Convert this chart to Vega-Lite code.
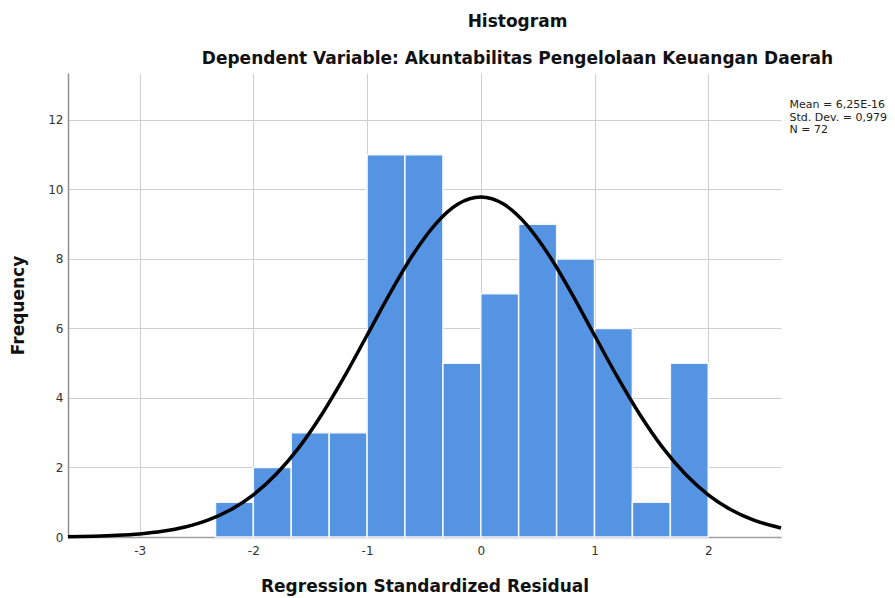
{
  "$schema": "https://vega.github.io/schema/vega-lite/v6.json",
  "width": 713,
  "height": 464,
  "autosize": {"type": "none"},
  "padding": {"left": 68, "top": 73, "right": 114, "bottom": 61},
  "background": "white",
  "config": {
    "view": {"stroke": null},
    "font": "DejaVu Sans"
  },
  "title": {
    "text": "Histogram",
    "subtitle": "Dependent Variable: Akuntabilitas Pengelolaan Keuangan Daerah",
    "anchor": "middle",
    "dx": 93,
    "offset": 5,
    "fontSize": 17,
    "fontWeight": "bold",
    "color": "#111111",
    "subtitleFontSize": 17,
    "subtitleFontWeight": "bold",
    "subtitleColor": "#111111",
    "subtitlePadding": 20,
    "font": "DejaVu Sans",
    "subtitleFont": "DejaVu Sans"
  },
  "datasets": {
    "bars": [
      {"bin_start": -2.333, "bin_end": -2.0, "count": 1},
      {"bin_start": -2.0, "bin_end": -1.667, "count": 2},
      {"bin_start": -1.667, "bin_end": -1.333, "count": 3},
      {"bin_start": -1.333, "bin_end": -1.0, "count": 3},
      {"bin_start": -1.0, "bin_end": -0.667, "count": 11},
      {"bin_start": -0.667, "bin_end": -0.333, "count": 11},
      {"bin_start": -0.333, "bin_end": 0.0, "count": 5},
      {"bin_start": 0.0, "bin_end": 0.333, "count": 7},
      {"bin_start": 0.333, "bin_end": 0.667, "count": 9},
      {"bin_start": 0.667, "bin_end": 1.0, "count": 8},
      {"bin_start": 1.0, "bin_end": 1.333, "count": 6},
      {"bin_start": 1.333, "bin_end": 1.667, "count": 1},
      {"bin_start": 1.667, "bin_end": 2.0, "count": 5}
    ],
    "curve": [
      {"x": -3.63, "y": 0.010},
      {"x": -3.4, "y": 0.024},
      {"x": -3.2, "y": 0.047},
      {"x": -3.0, "y": 0.089},
      {"x": -2.8, "y": 0.164},
      {"x": -2.6, "y": 0.288},
      {"x": -2.4, "y": 0.485},
      {"x": -2.2, "y": 0.783},
      {"x": -2.0, "y": 1.214},
      {"x": -1.8, "y": 1.805},
      {"x": -1.6, "y": 2.572},
      {"x": -1.4, "y": 3.518},
      {"x": -1.2, "y": 4.614},
      {"x": -1.0, "y": 5.804},
      {"x": -0.8, "y": 7.003},
      {"x": -0.6, "y": 8.106},
      {"x": -0.4, "y": 8.997},
      {"x": -0.2, "y": 9.578},
      {"x": 0.0, "y": 9.78},
      {"x": 0.2, "y": 9.578},
      {"x": 0.4, "y": 8.997},
      {"x": 0.6, "y": 8.106},
      {"x": 0.8, "y": 7.003},
      {"x": 1.0, "y": 5.804},
      {"x": 1.2, "y": 4.614},
      {"x": 1.4, "y": 3.518},
      {"x": 1.6, "y": 2.572},
      {"x": 1.8, "y": 1.805},
      {"x": 2.0, "y": 1.214},
      {"x": 2.2, "y": 0.783},
      {"x": 2.4, "y": 0.485},
      {"x": 2.64, "y": 0.259}
    ]
  },
  "layer": [
    {
      "data": {"name": "bars"},
      "mark": {"type": "bar", "color": "#5593e3", "stroke": "#f4f8fd", "strokeWidth": 1.5},
      "encoding": {
        "x": {
          "field": "bin_start",
          "type": "quantitative",
          "scale": {"domain": [-3.63, 2.64], "nice": false, "zero": false},
          "axis": {
            "values": [-3, -2, -1, 0, 1, 2],
            "labelExpr": "'' + datum.value",
            "title": "Regression Standardized Residual",
            "titleFontSize": 17,
            "titleFontWeight": "bold",
            "titleColor": "#111111",
            "titlePadding": 22,
            "labelFontSize": 12,
            "labelColor": "#333333",
            "labelPadding": 8,
            "ticks": false,
            "grid": true,
            "gridColor": "#cfcfcf",
            "domainColor": "#a0a0a0",
            "domainWidth": 1.5,
            "zindex": 0
          }
        },
        "x2": {"field": "bin_end"},
        "y": {
          "field": "count",
          "type": "quantitative",
          "scale": {"domain": [0, 13.35], "nice": false},
          "axis": {
            "values": [0, 2, 4, 6, 8, 10, 12],
            "title": "Frequency",
            "titleFontSize": 17,
            "titleFontWeight": "bold",
            "titleColor": "#111111",
            "titlePadding": 20,
            "labelFontSize": 12,
            "labelColor": "#333333",
            "labelPadding": 5,
            "ticks": false,
            "grid": true,
            "gridColor": "#cfcfcf",
            "domainColor": "#909090",
            "domainWidth": 1.5,
            "zindex": 0
          }
        },
        "y2": {"datum": 0}
      }
    },
    {
      "data": {"name": "curve"},
      "mark": {"type": "line", "color": "#000000", "strokeWidth": 3.5, "interpolate": "monotone"},
      "encoding": {
        "x": {"field": "x", "type": "quantitative"},
        "y": {"field": "y", "type": "quantitative"}
      }
    },
    {
      "data": {"values": [{}]},
      "mark": {"type": "text", "align": "left", "baseline": "top", "fontSize": 11, "lineHeight": 12.5, "color": "#222222", "font": "DejaVu Sans"},
      "encoding": {
        "x": {"datum": 2.715},
        "y": {"datum": 12.6},
        "text": {"value": ["Mean = 6,25E-16", "Std. Dev. = 0,979", "N = 72"]}
      }
    }
  ]
}
